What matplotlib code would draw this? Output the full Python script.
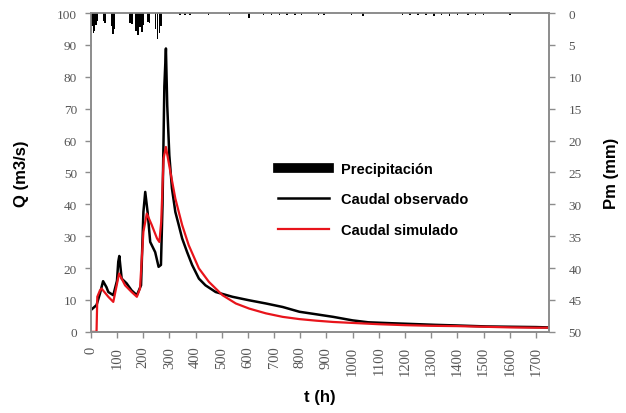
import matplotlib
matplotlib.use("Agg")
import matplotlib.pyplot as plt

# Observed discharge (m3/s)
h_obs = [0, 22, 35, 47, 60, 67, 86, 100, 105, 109, 118, 137, 156, 176, 192, 201, 208, 217, 227,
         246, 259, 268, 274, 281, 287, 292, 300, 310, 323, 336, 349, 368, 387, 413, 438, 477,
         541, 605, 669, 733, 797, 862, 926, 1000, 1060, 1150, 1250, 1315, 1400, 1510, 1600,
         1700, 1745]
q_obs = [6.8, 8.4, 12, 15.9, 14, 12.5, 11.5, 16, 22, 23.8, 16.7, 15.2, 13, 11.5, 14.6, 37.6,
         43.9, 37.6, 28.2, 25, 20.4, 21, 39.7, 77, 88.9, 71, 55.4, 45, 37.6, 33.5, 29.3, 25,
         21, 16.7, 14.6, 12.5, 11, 9.9, 8.9, 7.8, 6.3, 5.5, 4.7, 3.6, 3.0, 2.7, 2.4, 2.2, 2.0,
         1.7, 1.6, 1.5, 1.4]

# Simulated discharge (m3/s)
h_sim = [0, 22, 25, 35, 41, 67, 86, 99, 108, 131, 156, 176, 188, 201, 214, 233, 253, 262, 269,
         278, 287, 304, 323, 349, 374, 413, 451, 503, 554, 605, 669, 733, 797, 862, 926, 1000,
         1100, 1200, 1300, 1400, 1500, 1600, 1700, 1745]
q_sim = [0, 0, 11, 13, 13.6, 11, 9.4, 14.6, 18.3, 14.6, 12.5, 11, 13.6, 31.4, 37.1, 33.5, 29.3,
         28.2, 34.5, 54.4, 58, 50.2, 41.8, 33.5, 27.2, 19.9, 15.7, 11.5, 8.9, 7.3, 5.8, 4.7,
         4.0, 3.5, 3.1, 2.8, 2.4, 2.1, 1.9, 1.8, 1.6, 1.4, 1.3, 1.3]

# Precipitation (mm)
h_pp = [5, 10, 15, 20, 25, 48, 55, 80, 85, 90, 150, 158, 172, 180, 188, 195, 202, 218, 225,
        248, 255, 262, 268,
        340, 360, 380, 450, 530, 605, 660, 690, 720, 750, 780, 805, 870, 890, 995, 1040,
        1190, 1220, 1250, 1280, 1310, 1340, 1370, 1400, 1440, 1470, 1500, 1600]
p_pp = [2.0, 3.2, 2.8, 1.8, 1.2, 1.3, 1.5, 2.0, 3.3, 2.5, 1.5, 1.7, 2.8, 3.4, 2.2, 3.0, 1.8,
        1.4, 1.6, 2.5, 4.0, 3.2, 2.0,
        0.3, 0.3, 0.3, 0.3, 0.3, 0.8, 0.3, 0.3, 0.3, 0.3, 0.3, 0.3, 0.3, 0.3, 0.3, 0.5,
        0.3, 0.3, 0.3, 0.3, 0.4, 0.3, 0.5, 0.3, 0.3, 0.3, 0.3, 0.3]

x_ticks = list(range(0, 1701, 100))

tick_font = dict(family="Liberation Serif", size=9.5, color="#555555")
label_font = dict(family="Liberation Sans", size=12, weight="bold")

fig = plt.figure(figsize=(6.26, 4.14), dpi=100)
ax = fig.add_axes([0.145, 0.196, 0.732, 0.770])
ax2 = ax.twinx()

# precipitation hanging from the top
ax2.bar(h_pp, p_pp, width=6, color="black", label="Precipitación")
ax2.set_ylim(50, 0)
ax2.set_yticks(range(0, 51, 5))

l_obs, = ax.plot(h_obs, q_obs, color="black", linewidth=1.8, label="Caudal observado")
l_sim, = ax.plot(h_sim, q_sim, color="#e8141b", linewidth=1.6, label="Caudal simulado")

ax.set_xlim(0, 1750)
ax.set_ylim(0, 100)
ax.set_yticks(range(0, 101, 10))
ax.set_xticks(x_ticks)
ax.set_xticklabels([str(t) for t in x_ticks], rotation=90)

for a in (ax, ax2):
    for s in a.spines.values():
        s.set_color("#8c8c8c")
        s.set_linewidth(1.2)
    a.tick_params(direction="out", length=4, color="#8c8c8c", width=1)
    for lab in a.get_yticklabels():
        lab.set_fontfamily(tick_font["family"])
        lab.set_fontsize(tick_font["size"])
        lab.set_color(tick_font["color"])
for lab in ax.get_xticklabels():
    lab.set_fontfamily(tick_font["family"])
    lab.set_fontsize(10.5)
    lab.set_color(tick_font["color"])

ax.tick_params(axis="y", pad=6)
ax.tick_params(axis="x", pad=6)
ax2.tick_params(axis="y", pad=10)

ax.set_xlabel("t (h)", labelpad=10, **label_font)
ax.set_ylabel("Q (m3/s)", labelpad=20, **label_font)
ax2.set_ylabel("Pm (mm)", labelpad=16, **label_font)

bar_handle = plt.Line2D([], [], color="black", linewidth=7)
leg = ax.legend([bar_handle, l_obs, l_sim],
                ["Precipitación", "Caudal observado", "Caudal simulado"],
                loc="upper left", bbox_to_anchor=(0.38, 0.575), frameon=False,
                handlelength=3.5, labelspacing=1.15,
                prop=dict(family="Liberation Sans", size=10.5, weight="bold"))

fig.savefig("out.png", dpi=100)
